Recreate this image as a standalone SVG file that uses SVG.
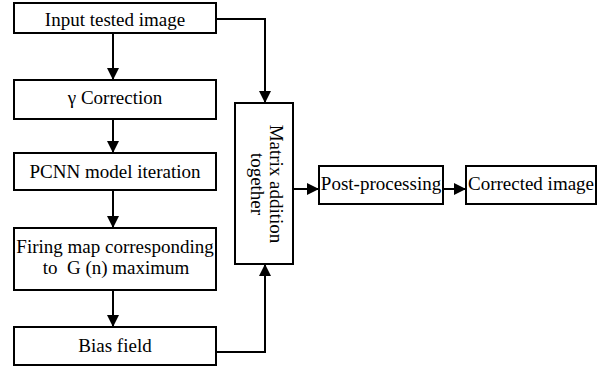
<svg xmlns="http://www.w3.org/2000/svg" width="600" height="368" viewBox="0 0 600 368">
<defs>
<marker id="ah" markerUnits="userSpaceOnUse" markerWidth="12" markerHeight="12" refX="12" refY="6" orient="auto">
<path d="M0,0 L12,6 L0,12 z" fill="#000"/>
</marker>
<style>
rect{fill:#fff;stroke:#000;stroke-width:2}
text{font-family:"Liberation Serif","Times New Roman",serif;font-size:19px;fill:#000;text-anchor:middle;white-space:pre}
.c{fill:none;stroke:#000;stroke-width:2;marker-end:url(#ah)}
</style>
</defs>
<rect x="0" y="0" width="600" height="368" style="stroke:none"/>
<g id="connectors">
<path class="c" d="M113,33 V80"/>
<path class="c" d="M113,119 V153"/>
<path class="c" d="M113,190 V228"/>
<path class="c" d="M113,290 V327"/>
<path class="c" d="M216,19 H265 V103"/>
<path class="c" d="M216,352 H265 V264"/>
<path class="c" d="M293,189 H319"/>
<path class="c" d="M443,189 H466"/>
</g>
<g id="input"><rect x="14" y="3" width="202" height="30"/><text x="115" y="26">Input tested image</text></g>
<g id="gamma"><rect x="14" y="80" width="202" height="39"/><text x="115" y="104">γ Correction</text></g>
<g id="pcnn"><rect x="14" y="153" width="202" height="37"/><text x="115" y="178">PCNN model iteration</text></g>
<g id="firing"><rect x="14" y="228" width="202" height="62"/><text x="115" y="253">Firing map corresponding</text><text x="116" y="274">to  G (n) maximum</text></g>
<g id="bias"><rect x="14" y="327" width="202" height="38"/><text x="115" y="352">Bias field</text></g>
<g id="matrix"><rect x="235" y="103" width="58" height="161"/><g transform="translate(264,184) rotate(90)"><text x="0" y="-6">Matrix addition</text><text x="0" y="13">together</text></g></g>
<g id="post"><rect x="319" y="166" width="124" height="38"/><text x="381" y="190">Post-processing</text></g>
<g id="corrected"><rect x="466" y="166" width="130" height="38"/><text x="531" y="190">Corrected image</text></g>
</svg>
